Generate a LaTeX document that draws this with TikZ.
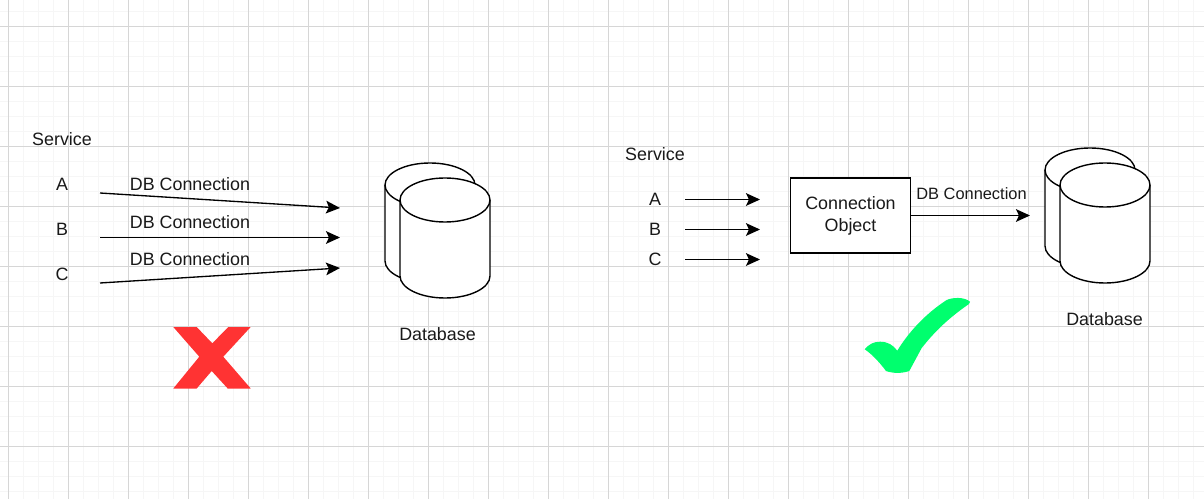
\documentclass[tikz,border=0pt]{standalone}
\usepackage{fontspec}
\setmainfont{Liberation Sans}
\usetikzlibrary{arrows.meta}
\definecolor{gridmajor}{HTML}{D6D6D6}
\definecolor{gridminor}{HTML}{F6F6F6}
\definecolor{crossred}{HTML}{FF3333}
\definecolor{tickgreen}{HTML}{00FF6E}
\tikzset{
  every node/.style={font=\fontsize{13.4pt}{15.5pt}\selectfont, text=black!90, inner sep=0pt},
  conn/.style={draw=black, line width=1pt, -{Stealth[length=10.5pt,width=9.5pt,inset=2.2pt]}},
  shapeline/.style={draw=black, line width=1.05pt, fill=white},
  gridmaj/.style={draw=gridmajor, line width=0.75pt},
  gridmin/.style={draw=gridminor, line width=0.75pt},
  boxnode/.style={draw=black, line width=1.05pt, fill=white, minimum width=90pt, minimum height=56.25pt, align=center},
  small/.style={font=\fontsize{12.3pt}{14pt}\selectfont}
}
\newcommand{\dbcyl}[3]{%
  % #1 left x, #2 top y, #3 height (px); ellipses as cubic curves
  \path[shapeline] (#1,#2+22) .. controls (#1,#2+10) and (#1+20,#2) .. (#1+45,#2)
    .. controls (#1+70,#2) and (#1+90,#2+10) .. (#1+90,#2+22)
    -- (#1+90,#2+#3-22) .. controls (#1+90,#2+#3-10) and (#1+70,#2+#3) .. (#1+45,#2+#3)
    .. controls (#1+20,#2+#3) and (#1,#2+#3-10) .. (#1,#2+#3-22) -- cycle;
  \draw[shapeline,fill=none] (#1,#2+22) .. controls (#1,#2+34) and (#1+20,#2+44) .. (#1+45,#2+44)
    .. controls (#1+70,#2+44) and (#1+90,#2+34) .. (#1+90,#2+22);
}
\begin{document}
\begin{tikzpicture}[x=0.75pt,y=-0.75pt]
\useasboundingbox (0,0) rectangle (1204,499);
\fill[white] (0,0) rectangle (1204,499);
% minor grid
\foreach \i in {0,...,80} { \draw[gridmin] ({8.5+15*\i-15},0) -- ({8.5+15*\i-15},499); }
\foreach \j in {0,...,34} { \draw[gridmin] (0,{11.5+15*\j-15}) -- (1204,{11.5+15*\j-15}); }
% major grid
\foreach \i in {0,...,20} { \draw[gridmaj] ({8.5+60*\i},0) -- ({8.5+60*\i},499); }
\foreach \j in {0,...,8} { \draw[gridmaj] (0,{26.5+60*\j}) -- (1204,{26.5+60*\j}); }

% left group
\node (svcL) at (62,139) {Service};
\node (a1) at (62,184) {A};
\node (b1) at (62,229) {B};
\node (c1) at (62,274) {C};
\coordinate (a1s) at (100,193);
\coordinate (b1s) at (100,237.5);
\coordinate (c1s) at (100,283);
\coordinate (a1e) at (340,208);
\coordinate (b1e) at (340,237.5);
\coordinate (c1e) at (340,268);
\draw[conn] (a1s) -- (a1e);
\draw[conn] (b1s) -- (b1e);
\draw[conn] (c1s) -- (c1e);
\node (l1) at (190,184) {DB Connection};
\node (l2) at (190,222) {DB Connection};
\node (l3) at (190,259) {DB Connection};
\dbcyl{385}{163}{120}
\dbcyl{400}{178}{120}
\node (dbL) at (437.5,334) {Database};
\fill[crossred] (173.3,327) -- (196.7,327) -- (212.3,343.3) -- (228.3,327) -- (250.7,327) -- (223.3,356.7) -- (250.7,388.5) -- (227.7,388.5) -- (211.7,371) -- (196.7,388.5) -- (173.3,388.5) -- (199.3,356.7) -- cycle;

% right group
\node (svcR) at (655,154) {Service};
\node (a2) at (655,199) {A};
\node (b2) at (655,229) {B};
\node (c2) at (655,259) {C};
\coordinate (a2s) at (685,199.5);
\coordinate (b2s) at (685,229.5);
\coordinate (c2s) at (685,259.5);
\coordinate (a2e) at (760,199.5);
\coordinate (b2e) at (760,229.5);
\coordinate (c2e) at (760,259.5);
\draw[conn] (a2s) -- (a2e);
\draw[conn] (b2s) -- (b2e);
\draw[conn] (c2s) -- (c2e);
\node[boxnode] (obj) at (850.5,215.5) {Connection\\[1pt]Object};
\coordinate (dbin) at (1030,215.5);
\draw[conn] (obj.east) -- (dbin);
\node[small] (l4) at (971.5,194) {DB Connection};
\dbcyl{1045}{148}{120}
\dbcyl{1060}{163}{120}
\node (dbR) at (1104.5,319) {Database};
\fill[tickgreen] (864.7,349.3) .. controls (869,344) and (874,341.7) .. (880,341.7)
  .. controls (888,341.7) and (893,345) .. (897.3,350.7)
  .. controls (908,333) and (925,314) .. (946.7,300)
  .. controls (952,297.5) and (964,296.5) .. (970,301.7)
  -- (969,304) .. controls (950,317) and (935,331) .. (921.7,348)
  -- (909.3,371) .. controls (902,373.5) and (893,373.5) .. (886,371)
  .. controls (880,363) and (873,355) .. (864.7,349.3) -- cycle;
\end{tikzpicture}
\end{document}
